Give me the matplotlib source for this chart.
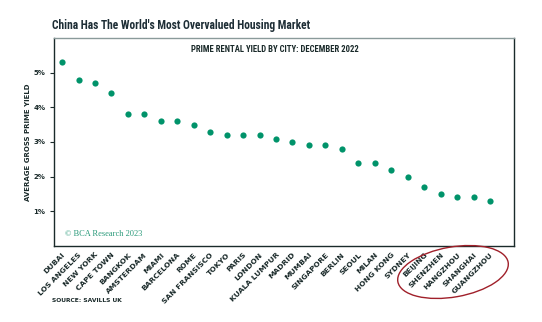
import numpy as np
import matplotlib
matplotlib.use("Agg")
import matplotlib.pyplot as plt
from matplotlib.patches import Ellipse
from matplotlib.transforms import IdentityTransform

cities = ["DUBAI", "LOS ANGELES", "NEW YORK", "CAPE TOWN", "BANGKOK", "AMSTERDAM",
          "MIAMI", "BARCELONA", "ROME", "SAN FRANSISCO", "TOKYO", "PARIS", "LONDON",
          "KUALA LUMPUR", "MADRID", "MUMBAI", "SINGAPORE", "BERLIN", "SEOUL", "MILAN",
          "HONG KONG", "SYDNEY", "BEIJING", "SHENZHEN", "HANGZHOU", "SHANGHAI", "GUANGZHOU"]
yields = [5.3, 4.8, 4.7, 4.4, 3.8, 3.8, 3.6, 3.6, 3.5, 3.3, 3.2, 3.2, 3.2,
          3.1, 3.0, 2.9, 2.9, 2.8, 2.4, 2.4, 2.2, 2.0, 1.7, 1.5, 1.4, 1.4, 1.3]
yticks = [1, 2, 3, 4, 5]

green = "#00936a"
dark = "#1a2a2a"
condensed = ["Roboto Condensed", "Barlow Condensed", "Archivo Narrow", "DejaVu Sans"]

W, H = 542, 322
fig = plt.figure(figsize=(W / 100, H / 100), dpi=100)
ax = fig.add_axes([54 / W, 76 / H, 460 / W, 208 / H])

x = np.arange(len(cities))
ax.scatter(x, yields, s=20, color=green, zorder=3, linewidths=0)

ax.set_ylim(0, 6)
ax.set_xlim(-0.49, 27.46)
ax.set_yticks(yticks)
ax.set_yticklabels([f"{v}%" for v in yticks], fontsize=5, color=dark, fontweight="bold")
ax.set_xticks(x)
ax.set_xticklabels(cities, rotation=45, ha="right", rotation_mode="anchor",
                   fontsize=5.4, color=dark, fontweight="bold")
ax.tick_params(axis="x", length=0, pad=4)
ax.tick_params(axis="y", length=3, width=0.8, color=dark, pad=3)

for side in ["left", "right", "bottom"]:
    ax.spines[side].set_color(dark)
    ax.spines[side].set_linewidth(1.0)
ax.spines["top"].set_color("#8a9a9a")
ax.spines["top"].set_linewidth(1.0)

ax.set_ylabel("AVERAGE GROSS PRIME YIELD", fontsize=5, color=dark,
              fontweight="bold", labelpad=2)

fig.text(275 / W, 1 - 49 / H, "PRIME RENTAL YIELD BY CITY: DECEMBER 2022",
         fontsize=6.2, fontweight="bold", color=dark, family=condensed,
         ha="center", va="center")

ax.text(0.024, 0.048, "© BCA Research 2023", transform=ax.transAxes,
        fontsize=6, color="#2a9a7a", family=["Liberation Serif", "DejaVu Serif"])

fig.text(52 / W, 1 - 26 / H, "China Has The World's Most Overvalued Housing Market",
         fontsize=8.3, color="#1e2e36", fontweight="bold", family=condensed,
         va="center", ha="left")
fig.text(52 / W, 1 - 300 / H, "SOURCE: SAVILLS UK", fontsize=4.3,
         color=dark, fontweight="bold", va="center", ha="left")

# red ellipse around the chinese cities
ell = Ellipse((453, H - 272), 112, 50, angle=10, transform=IdentityTransform(),
              fill=False, edgecolor="#a0202a", linewidth=1.0)
fig.add_artist(ell)

fig.savefig("out.png", dpi=100)
